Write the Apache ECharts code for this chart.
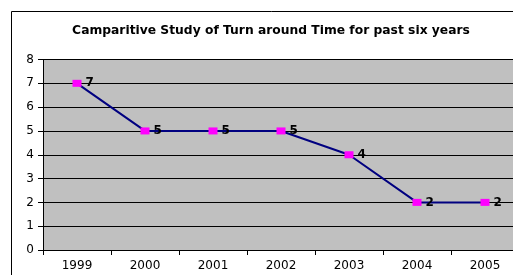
<!DOCTYPE html>
<html>
<head>
<meta charset="utf-8">
<script src="https://cdn.jsdelivr.net/npm/echarts@6/dist/echarts.min.js"></script>
<style>
  html, body { margin: 0; padding: 0; overflow: hidden; background: #fff; }
  #main { width: 530px; height: 275px; }
</style>
</head>
<body>
<div id="main"></div>
<script>
// data
var years = ['1999', '2000', '2001', '2002', '2003', '2004', '2005'];
var turnaround = [7, 5, 5, 5, 4, 2, 2];
var yTicks = [0, 1, 2, 3, 4, 5, 6, 7, 8];

var myChart = echarts.init(document.getElementById('main'));
var font = 'DejaVu Sans';

option = {
    backgroundColor: '#fff',
    animation: false,
    title: {
        text: 'Camparitive Study of Turn around Time for past six years',
        left: 266,
        top: 20,
        textAlign: 'center',
        textStyle: { fontFamily: font, fontSize: 12.3, fontWeight: 'bold', color: '#000' }
    },
    graphic: [{
        type: 'rect',
        shape: { x: 11.5, y: 11.5, width: 600, height: 400 },
        style: { fill: null, stroke: '#000', lineWidth: 1 }
    }],
    grid: { left: 43, top: 59.5, width: 476, height: 190.5, backgroundColor: '#c0c0c0', show: true, borderWidth: 0 },
    xAxis: {
        type: 'category',
        data: years,
        boundaryGap: true,
        axisLine: { lineStyle: { color: '#000', width: 1 } },
        axisTick: { show: true, length: 5, lineStyle: { color: '#000' } },
        axisLabel: { fontFamily: font, fontSize: 12, color: '#000', margin: 10 }
    },
    yAxis: {
        type: 'value',
        min: yTicks[0],
        max: yTicks[yTicks.length - 1],
        interval: 1,
        axisLine: { show: true, lineStyle: { color: '#000', width: 1 } },
        axisTick: { show: true, length: 5, lineStyle: { color: '#000' } },
        axisLabel: { fontFamily: font, fontSize: 12, color: '#000', margin: 9 },
        splitLine: { show: true, lineStyle: { color: '#000', width: 1 } }
    },
    series: [{
        type: 'line',
        data: turnaround,
        symbol: 'rect',
        symbolSize: [9, 7],
        itemStyle: { color: '#ff00ff' },
        lineStyle: { color: '#000080', width: 2 },
        label: {
            show: true,
            position: 'right',
            distance: 4,
            fontFamily: font,
            fontSize: 12,
            fontWeight: 'bold',
            color: '#000'
        }
    }]
};

myChart.setOption(option);
</script>
</body>
</html>
